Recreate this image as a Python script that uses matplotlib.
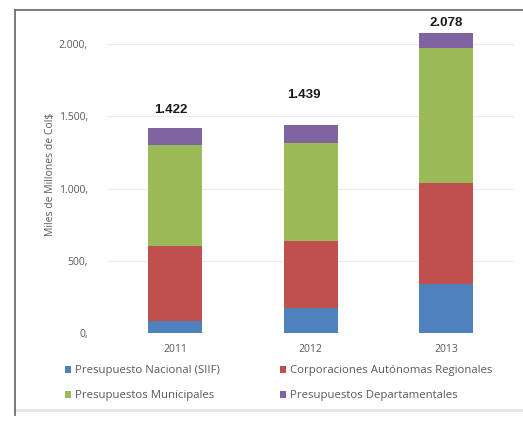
import matplotlib.pyplot as plt
import matplotlib.ticker as mticker
from matplotlib.lines import Line2D
import numpy as np

years = ['2011', '2012', '2013']
nacional = [85, 172, 340]
corporaciones = [520, 465, 698]
municipales = [695, 675, 938]
departamentales = [122, 127, 102]
totals = ['1.422', '1.439', '2.078']

series = [
    ('Presupuesto Nacional (SIIF)', nacional, '#4f81bd'),
    ('Corporaciones Autónomas Regionales', corporaciones, '#c0504d'),
    ('Presupuestos Municipales', municipales, '#9bbb59'),
    ('Presupuestos Departamentales', departamentales, '#8064a2'),
]

plt.rcParams['font.family'] = ['Open Sans', 'DejaVu Sans']

fig = plt.figure(figsize=(5.23, 4.21), dpi=100)
ax = fig.add_axes([0.205, 0.209, 0.778, 0.755])

x = np.arange(len(years))
bottom = np.zeros(len(years))
handles = []
for name, vals, col in series:
    h = ax.bar(x, vals, width=0.4, bottom=bottom, color=col, label=name, zorder=2)
    handles.append(h)
    bottom += np.array(vals)

# total labels above the bars
label_off = [120, 208, 67]
dx = [-0.03, -0.05, 0.0]
for i, t in enumerate(totals):
    ax.text(x[i] + dx[i], bottom[i] + label_off[i], t, ha='center', va='center',
            fontsize=9.5, fontweight='bold', family='Liberation Sans', color='#1a1a1a')

ax.set_xlim(-0.5, 2.5)
ax.set_ylim(0, 2200)
ax.set_yticks([0, 500, 1000, 1500, 2000])
ax.yaxis.set_major_formatter(mticker.FuncFormatter(
    lambda v, p: '{:,.0f},'.format(v).replace(',', '.')[:-1] + ','))
ax.set_xticks(x)
ax.set_xticklabels(years)
ax.tick_params(axis='y', labelsize=7.5, colors='#595959', length=0, pad=14)
ax.tick_params(axis='x', labelsize=7.5, colors='#595959', length=0, pad=8)
ax.grid(axis='y', color='#ececec', linewidth=0.8, zorder=0)
for s in ax.spines.values():
    s.set_visible(False)
ax.set_ylabel('Miles de Millones de Col$', fontsize=7.5, color='#595959', labelpad=2)

# legend rows: Nacional / Corporaciones, then Municipales / Departamentales
order = [0, 2, 1, 3]
fig.legend(handles=[handles[i] for i in order], loc='lower left',
           bbox_to_anchor=(0.105, 0.022), ncol=2,
           frameon=False, fontsize=8.2, labelcolor='#595959', handlelength=0.55,
           handleheight=0.55, handletextpad=0.35, columnspacing=5.2, labelspacing=1.25)

# outer frame of the pasted chart (top and left edges)
fig.add_artist(Line2D([15 / 523, 15 / 523], [6 / 421, 1 - 10 / 421], transform=fig.transFigure,
                      color='#6e6e6e', linewidth=1.3))
fig.add_artist(Line2D([15 / 523, 1], [1 - 10 / 421, 1 - 10 / 421], transform=fig.transFigure,
                      color='#6e6e6e', linewidth=1.3))
fig.add_artist(Line2D([17 / 523, 1], [11 / 421, 11 / 421], transform=fig.transFigure,
                      color='#e4e4e4', linewidth=2))

fig.savefig('out.png', dpi=100)
